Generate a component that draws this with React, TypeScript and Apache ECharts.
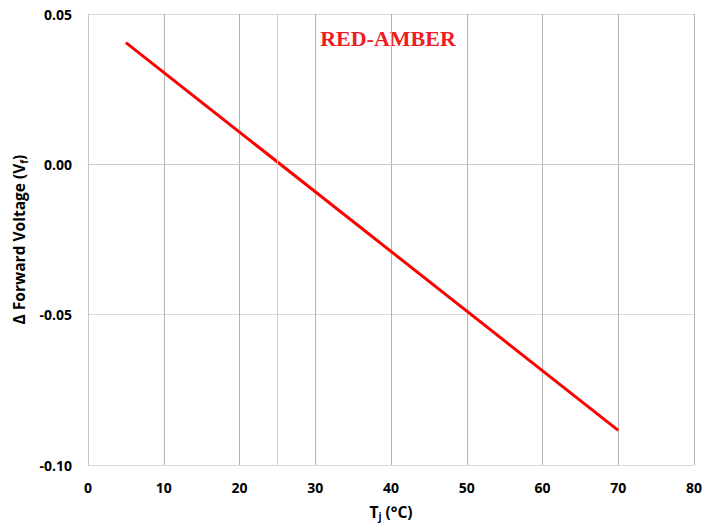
import React, { useEffect, useRef } from "react";
import * as echarts from "echarts";

const tempC: number[] = [5, 70];
const deltaVf: number[] = [0.0405, -0.0885];
const refTemp: number[] = [25];
const chartTitle = "RED-AMBER";

export default function App() {
  const ref = useRef<HTMLDivElement>(null);
  useEffect(() => {
    document.body.style.margin = "0";
    const chart = echarts.init(ref.current!, undefined, { renderer: "svg" });
    const labelFont = { fontFamily: "Open Sans", fontWeight: "bold" as const, fontSize: 14, color: "#000" };
    const rich = {
      b: { fontFamily: "Open Sans", fontWeight: "bold", fontSize: 15.5, color: "#000" },
      s: { fontFamily: "Open Sans", fontWeight: "bold", fontSize: 10, color: "#000", verticalAlign: "bottom", padding: [9, 0, 0, 0] },
    };
    chart.setOption({
      animation: false,
      backgroundColor: "#fff",
      grid: { left: 88, top: 14, right: 26, bottom: 64, containLabel: false },
      graphic: [
        {
          type: "text",
          x: 388,
          y: 38,
          style: {
            text: chartTitle,
            fill: "#ee1c25",
            font: "bold 22px 'Liberation Serif'",
            textAlign: "center",
            textVerticalAlign: "middle",
          },
        },
      ],
      xAxis: {
        type: "value",
        min: 0,
        max: 80,
        interval: 10,
        name: "{b|T}{s|j}{b| (°C)}",
        nameLocation: "middle",
        nameGap: 37,
        nameTextStyle: { rich },
        axisLine: { show: true, lineStyle: { color: "#c8c8c8", width: 1 } },
        axisTick: { show: false },
        axisLabel: { ...labelFont, margin: 15 },
        splitLine: { show: true, lineStyle: { color: "#b4b4b4", width: 1 } },
      },
      yAxis: {
        type: "value",
        min: -0.1,
        max: 0.05,
        interval: 0.05,
        name: "{b|Δ Forward Voltage (V}{s|f}{b|)}",
        nameLocation: "middle",
        nameGap: 57,
        nameTextStyle: { rich },
        axisLine: { show: true, lineStyle: { color: "#c8c8c8", width: 1 } },
        axisTick: { show: false },
        axisLabel: { ...labelFont, margin: 16, formatter: (v: number) => v.toFixed(2) },
        splitLine: { show: true, lineStyle: { color: "#d9d9d9", width: 1 } },
      },
      series: [
        {
          type: "line",
          data: tempC.map((t, i) => [t, deltaVf[i]]),
          showSymbol: false,
          symbol: "none",
          lineStyle: { color: "#ff0000", width: 3 },
          silent: true,
          markLine: {
            silent: true,
            symbol: "none",
            label: { show: false },
            lineStyle: { color: "#d0d0d0", width: 1, type: "solid" },
            data: refTemp.map((t) => ({ xAxis: t })),
          },
        },
      ],
    });
    return () => chart.dispose();
  }, []);
  return <div ref={ref} style={{ width: 720, height: 529 }} />;
}
